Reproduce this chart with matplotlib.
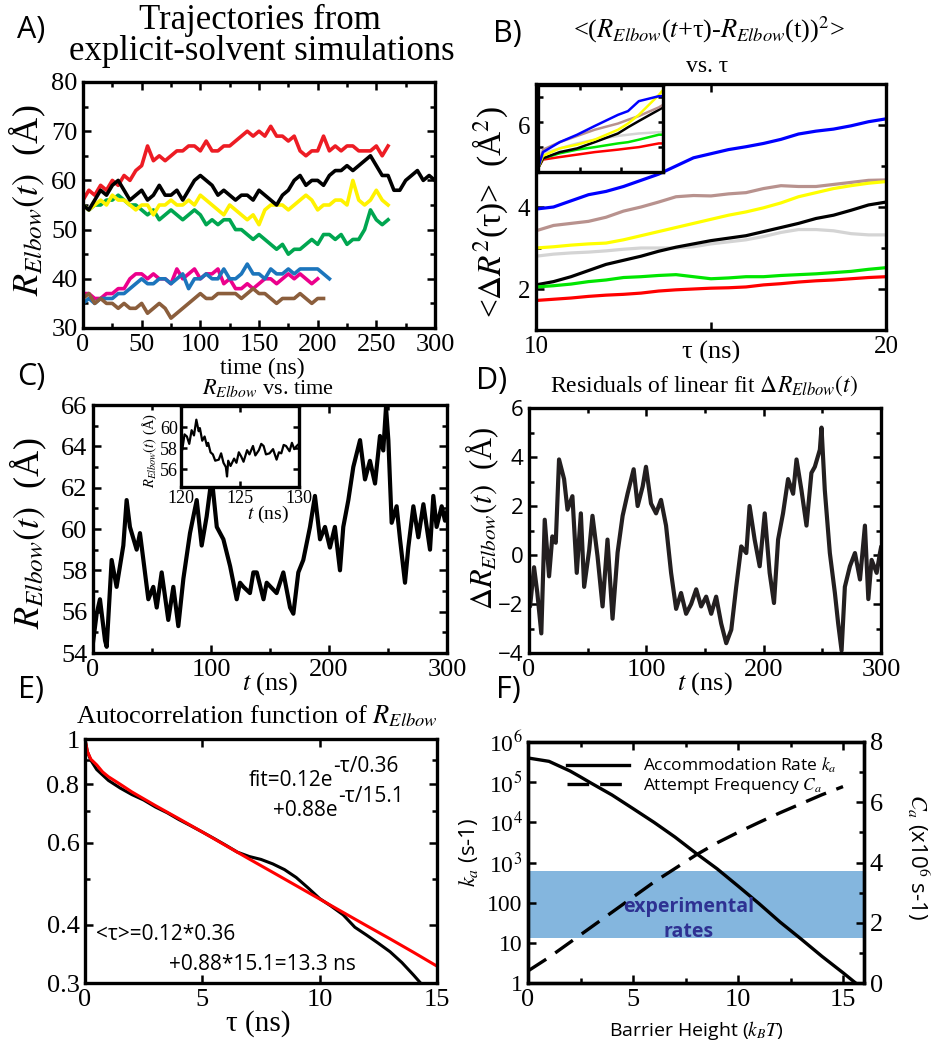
import numpy as np
import matplotlib
matplotlib.use('Agg')
import matplotlib.pyplot as plt
from matplotlib.ticker import MultipleLocator, FixedLocator, NullFormatter, LogLocator

plt.rcParams['font.family'] = 'Liberation Serif'
plt.rcParams['mathtext.fontset'] = 'stix'
SERIF = 'Liberation Serif'
SANS = 'Open Sans'

# ---------------- data ----------------
# A) trajectories, sampled every 5 ns
a_red = [56, 58, 57, 59, 58, 60, 59, 61, 60, 62, 63, 67, 64, 65, 64, 65, 66, 66, 67, 67,
         66, 68, 66, 66, 67, 67, 68, 69, 70, 69, 70, 69, 71, 69, 69, 68, 69, 66, 65, 66,
         66, 69, 66, 67, 66, 67, 67, 66, 66, 66, 67, 65, 67]
a_black = [55, 54, 56, 58, 57, 59, 60, 58, 56, 57, 58, 56, 57, 59, 57, 57, 58, 56, 58, 60,
           61, 60, 59, 57, 58, 57, 56, 57, 57, 56, 58, 57, 56, 55, 57, 58, 60, 61, 59, 60,
           60, 59, 61, 62, 62, 63, 62, 63, 64, 65, 63, 61, 61, 58, 58, 60, 61, 62, 60, 61, 60]
a_yellow = [55, 54, 55, 56, 55, 57, 56, 56, 55, 54, 55, 55, 53, 55, 55, 56, 55, 55, 56, 55,
            57, 56, 55, 54, 53, 55, 54, 53, 52, 53, 51, 54, 55, 55, 55, 54, 55, 56, 57, 56,
            54, 55, 55, 56, 56, 55, 60, 56, 55, 56, 58, 56, 55]
a_green = [55, 54, 55, 55, 56, 56, 57, 56, 55, 55, 54, 53, 54, 52, 53, 54, 53, 52, 53, 54,
           53, 51, 52, 51, 52, 52, 50, 50, 49, 48, 49, 48, 47, 46, 47, 45, 46, 46, 47, 48,
           47, 49, 49, 48, 49, 47, 48, 48, 50, 54, 52, 51, 52]
a_pink = [37, 37, 36, 36, 37, 37, 38, 38, 40, 41, 41, 40, 41, 40, 40, 39, 42, 40, 41, 42,
          40, 41, 41, 42, 39, 40, 38, 38, 39, 38, 39, 40, 40, 39, 40, 41, 40, 41, 40, 39, 40]
a_blue = [35, 36, 35, 36, 36, 36, 37, 37, 38, 39, 40, 39, 39, 40, 40, 39, 40, 41, 38, 40,
          40, 41, 40, 40, 42, 40, 40, 41, 43, 41, 41, 40, 42, 41, 41, 42, 41, 42, 42, 42,
          42, 41, 40]
a_brown = [36, 37, 35, 36, 35, 35, 34, 35, 34, 34, 35, 33, 34, 35, 34, 32, 33, 34, 35, 36,
           37, 36, 36, 37, 37, 37, 37, 36, 37, 38, 37, 37, 36, 35, 36, 36, 36, 37, 36, 35,
           36, 36]
a_colors = ['#ed1c24', '#00a650', '#fff200', '#000000', '#ec008c', '#1c75bc', '#8b5e3c']

# B) mean squared displacement, tau = 10..20 ns in 0.5 steps
b_tau = np.arange(10, 20.01, 0.5)
b_blue = [3.95, 4.0, 4.15, 4.3, 4.38, 4.5, 4.65, 4.8, 5.0, 5.2, 5.3, 5.4, 5.47, 5.55, 5.65,
          5.78, 5.85, 5.9, 5.98, 6.08, 6.15]
b_brown = [3.42, 3.55, 3.6, 3.65, 3.75, 3.9, 4.0, 4.12, 4.25, 4.28, 4.27, 4.32, 4.35, 4.45,
           4.52, 4.5, 4.5, 4.55, 4.6, 4.65, 4.66]
b_yellow = [3.0, 3.03, 3.07, 3.1, 3.12, 3.2, 3.3, 3.4, 3.5, 3.6, 3.7, 3.8, 3.88, 3.98, 4.1,
            4.25, 4.35, 4.45, 4.52, 4.58, 4.62]
b_gray = [2.8, 2.85, 2.88, 2.9, 2.93, 2.97, 3.0, 3.0, 3.0, 3.03, 3.1, 3.15, 3.2, 3.28, 3.38,
          3.45, 3.45, 3.42, 3.35, 3.32, 3.32]
b_black = [2.1, 2.18, 2.3, 2.45, 2.6, 2.7, 2.8, 2.92, 3.02, 3.1, 3.18, 3.24, 3.3, 3.4, 3.5,
           3.6, 3.72, 3.8, 3.92, 4.05, 4.12]
b_green = [2.05, 2.08, 2.12, 2.18, 2.22, 2.28, 2.3, 2.33, 2.35, 2.3, 2.25, 2.27, 2.3, 2.3,
           2.33, 2.35, 2.37, 2.4, 2.43, 2.48, 2.52]
b_red = [1.72, 1.75, 1.78, 1.82, 1.85, 1.87, 1.9, 1.95, 1.98, 2.0, 2.02, 2.03, 2.05, 2.1,
         2.13, 2.17, 2.2, 2.22, 2.25, 2.28, 2.3]
b_colors = ['#0000ff', '#b8928e', '#ffff00', '#d4d4d4', '#000000', '#00e600', '#ff0000']

# B inset (full range)
bi_tau = [0, 0.6, 2.6, 4.7, 6.8, 9.6, 10.8, 12.1, 14.5, 15]
bi_blue = [0.3, 1.6, 2.4, 3.0, 3.7, 4.6, 4.9, 5.7, 6.1, 6.1]
bi_brown = [0.3, 1.8, 2.4, 2.9, 3.4, 3.9, 4.2, 4.5, 5.2, 5.4]
bi_yellow = [0.3, 1.3, 1.9, 2.2, 2.6, 3.4, 3.9, 4.6, 6.2, 6.6]
bi_gray = [0.3, 1.5, 1.9, 2.3, 2.6, 2.9, 3.0, 3.1, 3.2, 3.2]
bi_black = [0.3, 1.1, 1.6, 1.9, 2.4, 3.1, 3.6, 4.1, 5.0, 5.2]
bi_green = [0.3, 1.1, 1.5, 1.8, 2.0, 2.3, 2.4, 2.6, 3.0, 3.0]
bi_red = [0.3, 1.0, 1.2, 1.4, 1.6, 1.8, 1.9, 2.0, 2.3, 2.3]

# C) one trajectory
c_t = [0, 3.1, 5.9, 10.2, 11.6, 15.8, 20, 25.7, 28.5, 31.3, 37, 39.8, 42.7, 46.9, 51.1,
       54, 58.2, 63.8, 68.1, 72.3, 76.6, 82.2, 87.9, 92.1, 96.3, 100.6, 104.9, 110.5, 116.2,
       121.8, 124.6, 127.5, 133, 135.9, 138.8, 144.5, 147.2, 155.6, 161.3, 167, 169.8, 174,
       178.2, 183.9, 188.1, 192.4, 196.6, 200.8, 205, 209.3, 212.1, 216.4, 220.6, 226.3,
       230.5, 234.7, 239, 243.2, 246, 248.3, 250.3, 253.1, 257.3, 260.2, 264.4, 267.2,
       271.5, 275.7, 280, 285.6, 288.4, 291.2, 295.5, 298.3, 300]
c_r = [54.5, 55.9, 56.6, 54.6, 54.3, 58.5, 57.2, 59.2, 61.4, 60.1, 59.0, 59.8, 58.5, 56.6,
       57.2, 56.2, 57.9, 55.6, 57.2, 55.3, 57.6, 59.8, 61.4, 59.2, 60.6, 62.5, 60.1, 59.5,
       58.2, 56.6, 57.4, 57.2, 56.9, 57.9, 57.9, 56.6, 57.4, 56.9, 57.9, 56.2, 55.9, 57.9,
       58.5, 60.1, 61.6, 59.5, 60.1, 59.1, 60.1, 58.0, 60.1, 61.4, 63.0, 64.3, 62.4, 63.3,
       62.2, 64.5, 63.8, 65.9, 64.3, 60.3, 61.1, 59.5, 57.4, 59.1, 61.1, 59.6, 61.2, 59.0,
       61.6, 60.1, 61.1, 60.4, 60.8]
ci_t = [120.0, 120.1, 120.3, 120.5, 120.7, 120.9, 121.1, 121.3, 121.5, 121.6, 121.8, 122.0,
        122.2, 122.3, 122.5, 122.7, 122.9, 123.2, 123.4, 123.6, 123.8, 123.9, 124.0, 124.2,
        124.5, 124.7, 124.9, 125.1, 125.3, 125.6, 125.8, 126.1, 126.3, 126.6, 126.8, 127.0,
        127.2, 127.5, 127.8, 128.1, 128.3, 128.5, 128.7, 128.9, 129.2, 129.4, 129.6, 129.8,
        130.0]
ci_r = [58.5, 57.8, 59.3, 59.1, 58.4, 59.7, 59.2, 60.7, 59.6, 59.9, 58.7, 59.1, 58.2, 58.5,
        57.6, 57.4, 56.8, 56.9, 57.5, 56.6, 56.2, 55.3, 56.8, 56.3, 57.0, 56.6, 57.6, 57.2,
        56.7, 57.8, 57.4, 58.2, 57.3, 57.8, 58.4, 58.2, 57.4, 57.5, 57.9, 56.9, 57.6, 57.5,
        58.3, 58.2, 57.7, 58.5, 57.9, 58.2, 58.4]

# D) residuals of linear fit
d_t = [0, 0.9, 4.3, 7.1, 10.5, 13.4, 17.1, 19.9, 22.8, 25.6, 29.9, 32.8, 37.0, 40.7, 44.2,
       47.0, 51.3, 54.1, 58.4, 62.7, 66.9, 71.2, 75.5, 79.8, 84.0, 89.2, 92.6, 96.9, 99.7,
       104.0, 108.3, 112.5, 116.8, 121.1, 125.4, 129.6, 133.9, 138.2, 142.5, 146.7, 151.0,
       155.3, 159.5, 163.8, 168.1, 172.4, 176.6, 180.9, 185.2, 188.0, 192.3, 196.6, 200.9,
       205.1, 208.8, 212.3, 216.5, 220.8, 225.1, 228.0, 232.2, 236.5, 240.7, 243.6, 247.9,
       249.3, 252.1, 256.4, 260.7, 263.5, 266.4, 269.2, 273.5, 277.8, 282.1, 286.3, 289.2,
       292.0, 296.3, 299.1, 300]
d_r = [-1.2, -2.1, -0.5, -1.55, -3.2, 1.44, -0.87, 0.76, 0.5, 3.9, 3.1, 1.85, 2.4, -0.73,
       1.7, -1.3, 0.2, 1.6, -0.05, -2.1, 0.63, -2.6, 0.1, 1.6, 2.5, 3.5, 2.0, 2.8, 3.6, 2.1,
       1.7, 2.25, 1.2, -0.73, -2.2, -1.55, -2.4, -2.0, -1.4, -2.1, -1.7, -2.4, -1.7, -2.8,
       -3.6, -3.05, -1.3, 0.35, 0.08, 2.0, 0.63, -0.46, 1.7, -0.73, -1.96, 0.63, 1.7, 3.1,
       2.5, 3.9, 2.65, 1.2, 3.35, 3.6, 4.3, 5.2, 2.65, 0.08, -1.55, -2.8, -3.9, -1.3, -0.46,
       0.08, -1.0, 1.2, -1.8, -0.2, -0.73, 0.08, 0.3]

# E) autocorrelation and fit
e_t = [0, 0.1, 0.25, 0.5, 1, 1.5, 2, 2.5, 3, 3.5, 4, 4.5, 5, 5.5, 6, 6.5, 7, 7.5, 8, 8.5,
       9, 9.5, 10, 10.5, 11, 11.5, 12, 12.5, 13, 13.5, 14, 14.3]
e_acf = [1.0, 0.94, 0.9, 0.86, 0.815, 0.785, 0.76, 0.74, 0.715, 0.695, 0.672, 0.652, 0.632,
         0.612, 0.592, 0.572, 0.56, 0.552, 0.54, 0.525, 0.505, 0.48, 0.455, 0.438, 0.42,
         0.395, 0.38, 0.365, 0.35, 0.332, 0.312, 0.3]
e_fit_t = [0, 0.1, 0.25, 0.5, 0.75, 1, 1.5, 2, 3, 4, 5, 6, 7, 8, 9, 10, 11, 12, 13, 14, 15]
e_fit = [1.0, 0.94, 0.905, 0.88, 0.85, 0.83, 0.80, 0.77, 0.72, 0.675, 0.632, 0.591, 0.553,
         0.518, 0.485, 0.454, 0.425, 0.398, 0.373, 0.349, 0.326]

# F) rates vs barrier height
f_x = [0, 1, 2, 2.5, 3, 4, 5, 6, 7, 8, 9, 10, 11, 12, 13, 14, 15, 15.6]
f_ka = [4.0e5, 3.3e5, 1.9e5, 1.35e5, 9.5e4, 4.8e4, 2.2e4, 1.0e4, 4.3e3, 1.7e3, 700, 260,
        95, 33, 12.5, 4.6, 1.8, 1.0]
f_cx = [0, 1, 2, 3, 4, 5, 6, 7, 8, 9, 10, 11, 12, 13, 14, 15]
f_ca = [0.4, 0.85, 1.35, 1.85, 2.35, 2.85, 3.35, 3.8, 4.25, 4.65, 5.0, 5.33, 5.65, 5.95,
        6.25, 6.52]
f_band = (13, 600)

# ---------------- figure ----------------
W, H = 942, 1050
fig = plt.figure(figsize=(W / 100, H / 100), dpi=100)


def box(x0, y0, x1, y1):
    return [x0 / W, 1 - y1 / H, (x1 - x0) / W, (y1 - y0) / H]


def txt(x, y, s, **kw):
    kw.setdefault('ha', 'center')
    kw.setdefault('va', 'center')
    fig.text(x / W, 1 - y / H, s, **kw)


def style(ax, size, right=True):
    for sp in ax.spines.values():
        sp.set_linewidth(2.4)
    ax.tick_params(which='both', direction='in', top=True, right=right, width=1.8,
                   labelsize=size, pad=4)
    ax.tick_params(which='major', length=6)
    ax.tick_params(which='minor', length=3.5)
    for lab in ax.get_xticklabels() + ax.get_yticklabels():
        lab.set_fontfamily(SERIF)


# panel A
axA = fig.add_axes(box(83, 82, 435, 328))
for r, c in zip([a_red, a_green, a_yellow, a_black, a_pink, a_blue, a_brown], a_colors):
    axA.plot(np.arange(len(r)) * 5, r, color=c, lw=2.6)
axA.set_xlim(0, 300)
axA.set_ylim(30, 80)
axA.xaxis.set_major_locator(MultipleLocator(50))
axA.xaxis.set_minor_locator(MultipleLocator(25))
axA.yaxis.set_major_locator(MultipleLocator(10))
axA.yaxis.set_minor_locator(MultipleLocator(5))
style(axA, 19)
txt(260, 20, 'Trajectories from', fontsize=25)
txt(262, 52, 'explicit-solvent simulations', fontsize=25)
txt(27, 200, r'$R_{Elbow}(t)$  (Å)', fontsize=26, rotation=90)
txt(262, 368, 'time (ns)', fontsize=17)

# panel B
axB = fig.add_axes(box(536, 84, 886, 330))
for r, c in zip([b_blue, b_brown, b_yellow, b_gray, b_black, b_green, b_red], b_colors):
    axB.plot(b_tau, r, color=c, lw=2.3)
axB.set_xlim(10, 20)
axB.set_ylim(1, 7)
axB.set_xticks([10, 15, 20])
axB.set_xticklabels(['10', '', '20'])
axB.yaxis.set_major_locator(FixedLocator([2, 4, 6]))
axB.yaxis.set_minor_locator(FixedLocator([1, 3, 5, 7]))
style(axB, 18)
txt(709, 30, r'<($R_{Elbow}$($t$+τ)-$R_{Elbow}$(t))$^2$>', fontsize=19)
txt(707, 66, 'vs. τ', fontsize=17)
txt(490, 212, r'<$\Delta R^2$(τ)>  (Å$^2$)', fontsize=24, rotation=90)
txt(711, 352, 'τ (ns)', fontsize=19)

axBi = fig.add_axes(box(538, 85, 663, 172))
for r, c in zip([bi_gray, bi_red, bi_green, bi_black, bi_brown, bi_yellow, bi_blue],
                ['#d4d4d4', '#ff0000', '#00e600', '#000000', '#b8928e', '#ffff00', '#0000ff']):
    axBi.plot(bi_tau, r, color=c, lw=1.8)
axBi.set_xlim(0, 15)
axBi.set_ylim(0, 7)
axBi.xaxis.set_major_locator(MultipleLocator(5))
axBi.yaxis.set_major_locator(MultipleLocator(2))
style(axBi, 8)
axBi.tick_params(which='major', length=3.5)
axBi.set_xticklabels([])
axBi.set_yticklabels([])

# panel C
axC = fig.add_axes(box(93, 405, 447, 653))
axC.plot(c_t, c_r, color='black', lw=3.0)
axC.set_xlim(0, 300)
axC.set_ylim(54, 66)
axC.xaxis.set_major_locator(MultipleLocator(100))
axC.xaxis.set_minor_locator(MultipleLocator(50))
axC.yaxis.set_major_locator(MultipleLocator(2))
axC.yaxis.set_minor_locator(MultipleLocator(1))
style(axC, 19)
txt(268, 388, r'$R_{Elbow}$ vs. time', fontsize=16)
txt(28, 533, r'$R_{Elbow}(t)$  (Å)', fontsize=26, rotation=90)
txt(270, 684, r'$t$ (ns)', fontsize=19)

axCi = fig.add_axes(box(181, 406, 299, 487))
axCi.plot(ci_t, ci_r, color='black', lw=1.6)
axCi.set_xlim(120, 130)
axCi.set_ylim(54.3, 62)
axCi.set_xticks([120, 125, 130])
axCi.set_yticks([56, 58, 60])
style(axCi, 13)
axCi.tick_params(which='major', length=4, pad=2)
txt(268, 514, r'$t$ (ns)', fontsize=14)
txt(150, 450, r'$R_{Elbow}(t)$ (Å)', fontsize=10.5, rotation=90)

# panel D
axD = fig.add_axes(box(529, 408, 881, 653))
axD.plot(d_t, d_r, color='#231f20', lw=3.0)
axD.set_xlim(0, 300)
axD.set_ylim(-4, 6)
axD.xaxis.set_major_locator(MultipleLocator(100))
axD.xaxis.set_minor_locator(MultipleLocator(50))
axD.yaxis.set_major_locator(MultipleLocator(2))
axD.yaxis.set_minor_locator(MultipleLocator(1))
style(axD, 19)
for lab in axD.get_yticklabels():
    lab.set_fontfamily(SANS)
    lab.set_fontsize(16)
txt(704, 386, r'Residuals of linear fit $\Delta R_{Elbow}(t)$', fontsize=17)
txt(482, 518, r'$\Delta R_{Elbow}(t)$  (Å)', fontsize=22, rotation=90)
txt(705, 684, r'$t$ (ns)', fontsize=19)

# panel E
axE = fig.add_axes(box(85, 739, 437, 983))
axE.plot(e_t, e_acf, color='black', lw=2.2)
axE.plot(e_fit_t, e_fit, color='#ff0000', lw=2.2)
axE.set_yscale('log')
axE.set_xlim(0, 15)
axE.set_ylim(0.3, 1)
axE.yaxis.set_major_locator(FixedLocator([0.3, 0.4, 0.6, 0.8, 1]))
axE.yaxis.set_minor_locator(FixedLocator([0.5, 0.7, 0.9]))
axE.yaxis.set_minor_formatter(NullFormatter())
axE.set_yticklabels(['0.3', '0.4', '0.6', '0.8', '1'])
axE.xaxis.set_major_locator(MultipleLocator(5))
style(axE, 19)
txt(257, 716, r'Autocorrelation function of $R_{Elbow}$', fontsize=19)
txt(258, 1024, 'τ (ns)', fontsize=21)
txt(333, 780, 'fit=0.12e', fontsize=15, ha='right', family=SANS)
txt(333, 766, '-τ/0.36', fontsize=15, ha='left', family=SANS)
txt(338, 811, '+0.88e', fontsize=15, ha='right', family=SANS)
txt(338, 797, '-τ/15.1', fontsize=15, ha='left', family=SANS)
txt(96, 935, '<τ>=0.12*0.36', fontsize=15, ha='left', family=SANS)
txt(356, 965, '+0.88*15.1=13.3 ns', fontsize=15, ha='right', family=SANS)

# panel F
axF = fig.add_axes(box(528, 742, 864, 983))
axF.axhspan(f_band[0], f_band[1], color='#84b6de', lw=0, zorder=0)
l1, = axF.plot(f_x, f_ka, color='black', lw=2.4, label=r'Accommodation Rate $k_a$')
axF.set_yscale('log')
axF.set_xlim(0, 16)
axF.set_ylim(1, 1e6)
axF.yaxis.set_major_locator(FixedLocator([1, 10, 100, 1e3, 1e4, 1e5, 1e6]))
axF.yaxis.set_minor_locator(LogLocator(subs=np.arange(2, 10)))
axF.yaxis.set_minor_formatter(NullFormatter())
axF.set_yticklabels(['1', '10', '100', r'10$^3$', r'10$^4$', r'10$^5$', r'10$^6$'])
axF.xaxis.set_major_locator(MultipleLocator(5))
axF.xaxis.set_minor_locator(MultipleLocator(2.5))
style(axF, 19, right=False)
axF.tick_params(axis='y', labelsize=17)
axF2 = axF.twinx()
l2, = axF2.plot(f_cx, f_ca, color='black', lw=2.4, dashes=(6.5, 3.3),
                label=r'Attempt Frequency $C_a$')
axF2.set_ylim(0, 8)
axF2.yaxis.set_major_locator(MultipleLocator(2))
axF2.yaxis.set_minor_locator(MultipleLocator(1))
for sp in axF2.spines.values():
    sp.set_linewidth(2.4)
axF2.tick_params(which='both', direction='in', width=1.8, labelsize=19, pad=4)
axF2.tick_params(which='major', length=6)
axF2.tick_params(which='minor', length=3.5)
for lab in axF2.get_yticklabels():
    lab.set_fontfamily(SERIF)
axF2.legend(handles=[l1, l2], loc='upper right', bbox_to_anchor=(0.96, 1.0),
            frameon=False, handlelength=3.6, labelspacing=0.05, borderpad=0.3,
            prop={'family': SANS, 'size': 12.5})
txt(689, 907, 'experimental', fontsize=14, color='#2e3192', fontweight='bold', family=SANS)
txt(689, 932, 'rates', fontsize=14, color='#2e3192', fontweight='bold', family=SANS)
txt(696, 1030, r'Barrier Height ($k_BT$)', fontsize=14, family=SANS)
txt(468, 852, r'$k_a$ (s-1)', fontsize=16, rotation=90, family=SANS)
txt(918, 857, r'$C_a$ (x10$^6$ s-1)', fontsize=16, rotation=270, family=SANS)

# panel letters
for s, x, y in [('A)', 31, 30), ('B)', 507, 34), ('C)', 31, 377), ('D)', 492, 381),
                ('E)', 31, 690), ('F)', 508, 690)]:
    txt(x, y, s, fontsize=22, family=SANS)

fig.savefig('out.png', dpi=100)
